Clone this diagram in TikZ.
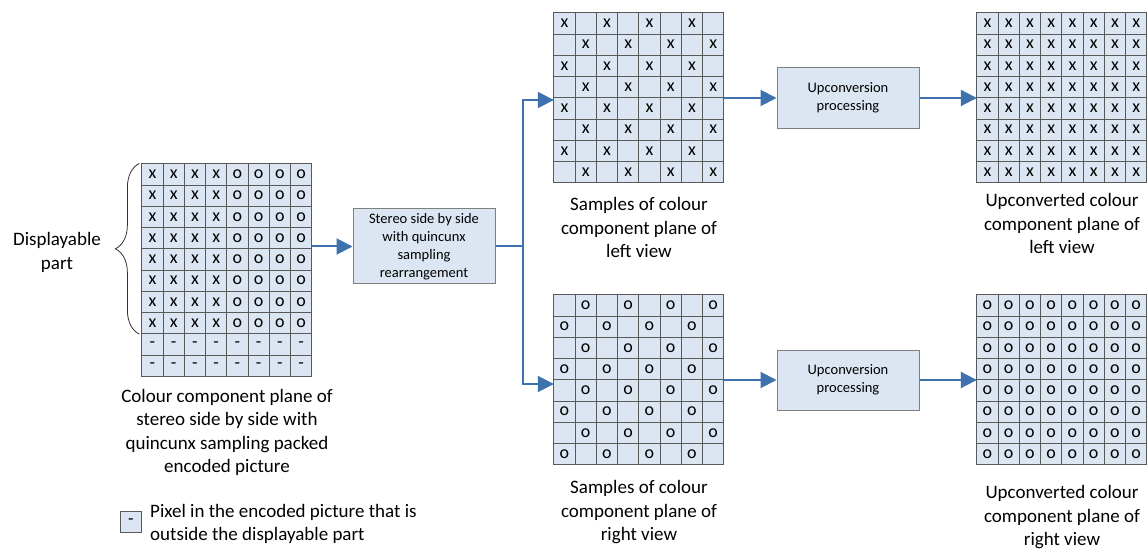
\documentclass[tikz,border=0pt]{standalone}
\usepackage{fontspec}
\setmainfont{Carlito}
\usepackage{xcolor}
\usepackage{tikz}
\usetikzlibrary{arrows.meta, positioning, decorations.pathreplacing}

\definecolor{cellfill}{HTML}{DCE6F2}
\definecolor{gridline}{HTML}{595959}
\definecolor{boxline}{HTML}{7F7F7F}
\definecolor{arrowblue}{HTML}{3E72AE}

\begin{document}
\begin{tikzpicture}[x=1pt, y=-1pt, node distance=212pt]
    \tikzstyle{plane} = [rectangle, inner sep=0pt, minimum width=170pt, minimum height=170pt]
    \tikzstyle{pix} = [rectangle, draw=gridline, line width=0.8pt, fill=cellfill, minimum width=21.25pt, minimum height=21.25pt, inner sep=0pt, font=\fontsize{18}{18}\selectfont]
    \tikzstyle{process} = [rectangle, minimum width=142pt, inner sep=2pt, text centered, align=center, draw=boxline, line width=1pt, fill=cellfill, font=\fontsize{14.5}{18}\selectfont]
    \tikzstyle{caption} = [inner sep=0pt, align=center, font=\fontsize{19}{23.5}\selectfont]
    \tikzstyle{arrow} = [line width=2pt, draw=arrowblue, -{Triangle[length=16pt, width=16pt]}]

    \useasboundingbox (0,0) rectangle (1148,553);

    \node (lgrid) [plane, minimum height=212.5pt] at (227,270.25) {};
    \node (stereo) [process, minimum height=75pt, right of=lgrid, xshift=-15pt, yshift=23.75pt] {Stereo side by side\\with quincunx\\sampling\\rearrangement};
    \node (tmid) [plane, right of=stereo, xshift=3pt, yshift=148.5pt] {};
    \node (bmid) [plane, below of=tmid, yshift=-70pt] {};
    \node (tup) [process, minimum height=61pt, right of=tmid, xshift=-3pt] {Upconversion\\processing};
    \node (bup) [process, minimum height=60pt, right of=bmid, xshift=-3pt] {Upconversion\\processing};
    \node (tright) [plane, right of=tup, xshift=2pt] {};
    \node (bright) [plane, right of=bup, xshift=2pt] {};

    % packed picture: left half x, right half o, two rows outside
    \foreach \row in {0,...,9}
        \foreach \col in {0,...,7}
            \node (l-\row-\col) [pix] at ([xshift=\col*21.25pt+10.625pt, yshift=-\row*21.25pt-10.625pt]lgrid.north west) {\ifnum\row>7 -\else\ifnum\col<4 x\else o\fi\fi};

    % quincunx samples
    \foreach \row in {0,...,7}
        \foreach \col in {0,...,7}
            \node (tm-\row-\col) [pix] at ([xshift=\col*21.25pt+10.625pt, yshift=-\row*21.25pt-10.625pt]tmid.north west) {\ifodd\numexpr\row+\col\relax\else x\fi};
    \foreach \row in {0,...,7}
        \foreach \col in {0,...,7}
            \node (bm-\row-\col) [pix] at ([xshift=\col*21.25pt+10.625pt, yshift=-\row*21.25pt-10.625pt]bmid.north west) {\ifodd\numexpr\row+\col\relax o\fi};

    % upconverted planes
    \foreach \row in {0,...,7}
        \foreach \col in {0,...,7}
            \node (tr-\row-\col) [pix] at ([xshift=\col*21.25pt+10.625pt, yshift=-\row*21.25pt-10.625pt]tright.north west) {x};
    \foreach \row in {0,...,7}
        \foreach \col in {0,...,7}
            \node (br-\row-\col) [pix] at ([xshift=\col*21.25pt+10.625pt, yshift=-\row*21.25pt-10.625pt]bright.north west) {o};

    \draw [decorate, decoration={brace, amplitude=24pt}, line width=0.8pt, draw=black!80] ([xshift=-2pt]l-7-0.south west) -- ([xshift=-2pt]l-0-0.north west);
    \node (disp) [caption, left of=lgrid, xshift=42pt, yshift=18pt] {Displayable\\part};

    \node (lcap) [caption, below=12pt of lgrid] {Colour component plane of\\stereo side by side with\\quincunx sampling packed\\encoded picture};
    \node (tmidcap) [caption, below=14pt of tmid] {Samples of colour\\component plane of\\left view};
    \node (trightcap) [caption, below=10pt of tright] {Upconverted colour\\component plane of\\left view};
    \node (bmidcap) [caption, below=15pt of bmid] {Samples of colour\\component plane of\\right view};
    \node (brightcap) [caption, below=20pt of bright] {Upconverted colour\\component plane of\\right view};

    \node (key) [pix] at (131,522) {-};
    \node (keytext) [caption, align=left, right=8pt of key, yshift=-2pt] {Pixel in the encoded picture that is\\outside the displayable part};

    \draw [arrow] (lgrid.east |- stereo.west) -- (stereo.west);
    \coordinate (split) at ([xshift=27pt]stereo.east);
    \draw [arrow] (stereo.east) -- (split) |- ([yshift=-2pt]tmid.west);
    \draw [arrow] (split) |- ([yshift=-4pt]bmid.west);
    \draw [arrow] (tmid) -- (tup);
    \draw [arrow] (tup) -- (tright);
    \draw [arrow] (bmid) -- (bup);
    \draw [arrow] (bup) -- (bright);

\end{tikzpicture}
\end{document}
